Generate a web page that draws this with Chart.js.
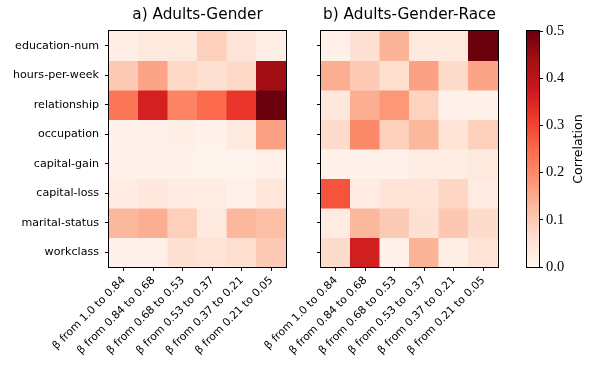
<!DOCTYPE html>
<html>
<head>
<meta charset="utf-8">
<script src="https://cdn.jsdelivr.net/npm/chart.js@4.4.1/dist/chart.umd.min.js"></script>
<style>
  html, body { margin: 0; padding: 0; background: #fff; }
  #wrap { position: relative; width: 598px; height: 367px; overflow: hidden; }
  #wrap canvas { position: absolute; left: 0; top: 0; }
</style>
</head>
<body>
<div id="wrap">
  <canvas id="ca" width="598" height="367"></canvas>
  <canvas id="cb" width="598" height="367"></canvas>
  <canvas id="cc" width="598" height="367"></canvas>
</div>
<script>
// ---- data ----
const features = ["education-num", "hours-per-week", "relationship", "occupation",
                  "capital-gain", "capital-loss", "marital-status", "workclass"];
const betaBins = ["β from 1.0 to 0.84", "β from 0.84 to 0.68", "β from 0.68 to 0.53",
                  "β from 0.53 to 0.37", "β from 0.37 to 0.21", "β from 0.21 to 0.05"];
const titleA = "a) Adults-Gender";
const titleB = "b) Adults-Gender-Race";
// rows follow `features`, columns follow `betaBins`
const genderEducation  = [0.020, 0.035, 0.035, 0.090, 0.050, 0.020];
const genderHours      = [0.100, 0.160, 0.075, 0.060, 0.075, 0.440];
const genderRelation   = [0.230, 0.360, 0.210, 0.250, 0.325, 0.495];
const genderOccupation = [0.010, 0.012, 0.018, 0.008, 0.035, 0.165];
const genderCapGain    = [0.012, 0.015, 0.010, 0.006, 0.006, 0.012];
const genderCapLoss    = [0.030, 0.040, 0.030, 0.025, 0.015, 0.045];
const genderMarital    = [0.130, 0.145, 0.090, 0.035, 0.130, 0.120];
const genderWorkclass  = [0.012, 0.012, 0.060, 0.055, 0.065, 0.100];

const raceEducation  = [0.015, 0.060, 0.135, 0.035, 0.035, 0.495];
const raceHours      = [0.145, 0.100, 0.065, 0.165, 0.070, 0.160];
const raceRelation   = [0.040, 0.145, 0.180, 0.085, 0.012, 0.010];
const raceOccupation = [0.070, 0.200, 0.090, 0.130, 0.055, 0.090];
const raceCapGain    = [0.010, 0.010, 0.012, 0.025, 0.025, 0.035];
const raceCapLoss    = [0.280, 0.030, 0.055, 0.055, 0.080, 0.030];
const raceMarital    = [0.030, 0.130, 0.100, 0.060, 0.105, 0.070];
const raceWorkclass  = [0.070, 0.365, 0.015, 0.135, 0.020, 0.055];

const colorbarTicks = [0.0, 0.1, 0.2, 0.3, 0.4, 0.5];
const vmin = 0, vmax = 0.5;

const genderMatrix = [genderEducation, genderHours, genderRelation, genderOccupation,
                      genderCapGain, genderCapLoss, genderMarital, genderWorkclass];
const raceMatrix = [raceEducation, raceHours, raceRelation, raceOccupation,
                    raceCapGain, raceCapLoss, raceMarital, raceWorkclass];

// ---- Reds colormap ----
const reds = ["#fff5f0", "#fee0d2", "#fcbba1", "#fc9272", "#fb6a4a",
              "#ef3b2c", "#cb181d", "#a50f15", "#67000d"];
function hex2rgb(h) { return [1, 3, 5].map(i => parseInt(h.substr(i, 2), 16)); }
const redsRGB = reds.map(hex2rgb);
function redsColor(v) {
  let t = (v - vmin) / (vmax - vmin);
  t = Math.max(0, Math.min(1, t));
  const p = t * (redsRGB.length - 1);
  const i = Math.min(Math.floor(p), redsRGB.length - 2);
  const f = p - i;
  const c = redsRGB[i].map((a, k) => Math.round(a + (redsRGB[i + 1][k] - a) * f));
  return `rgb(${c[0]},${c[1]},${c[2]})`;
}

// ---- geometry ----
const W = 598, H = 367;
const plotTop = 31, plotBottom = 267;
const aLeft = 109, aRight = 286;
const bLeft = 321, bRight = 498;
const cbLeft = 527, cbRight = 539;

const sansFont = "'DejaVu Sans', sans-serif";
const serifFont = "'Liberation Serif', 'DejaVu Serif', serif";

const boxPlugin = {
  id: 'box',
  afterDraw(chart) {
    const { ctx, chartArea: a } = chart;
    ctx.save();
    ctx.strokeStyle = '#000';
    ctx.lineWidth = 1;
    ctx.strokeRect(Math.round(a.left) - 0.5, Math.round(a.top) - 0.5,
                   Math.round(a.right - a.left) + 1, Math.round(a.bottom - a.top) + 1);
    ctx.restore();
  }
};

function heatmapConfig(matrix, title, left, right, showLabels) {
  const datasets = matrix.map((row, r) => ({
    label: features[r],
    data: row.map(() => [r, r + 1]),
    backgroundColor: row.map(v => redsColor(v)),
    borderWidth: 0,
    barPercentage: 1,
    categoryPercentage: 1,
    grouped: false,
    inflateAmount: 0.5
  }));
  return {
    type: 'bar',
    data: { labels: betaBins, datasets },
    options: {
      responsive: false,
      animation: false,
      events: [],
      layout: { padding: { left: 0, right: W - right, top: 0, bottom: 0 } },
      plugins: {
        legend: { display: false },
        tooltip: { enabled: false },
        title: {
          display: true, text: title, fullSize: false, color: '#000',
          font: { family: sansFont, size: 15.3, weight: 'normal', lineHeight: 1.2 },
          padding: { top: 6, bottom: 31 - 6 - 15.3 * 1.2 }
        }
      },
      scales: {
        x: {
          type: 'category',
          offset: true,
          grid: { offset: false, drawOnChartArea: false, drawTicks: true, tickLength: 4, tickColor: '#000' },
          border: { display: false },
          ticks: {
            minRotation: 45, maxRotation: 45, autoSkip: false, padding: 3,
            color: '#000', font: { family: sansFont, size: 10.8 }
          },
          afterFit(s) { s.height = H - plotBottom; s.paddingLeft = 0; s.paddingRight = 0; }
        },
        y: {
          type: 'linear', min: 0, max: features.length, reverse: true,
          grid: { drawOnChartArea: false, drawTicks: true, tickLength: 4, tickColor: '#000' },
          border: { display: false },
          afterBuildTicks(s) { s.ticks = features.map((f, i) => ({ value: i + 0.5 })); },
          ticks: {
            autoSkip: false, padding: 6, color: '#000',
            font: { family: sansFont, size: 11.1 },
            callback: (v, i) => showLabels ? features[i] : ''
          },
          afterFit(s) { s.width = left; s.paddingTop = 0; s.paddingBottom = 0; }
        }
      }
    },
    plugins: [boxPlugin]
  };
}

new Chart(document.getElementById('ca'), heatmapConfig(genderMatrix, titleA, aLeft, aRight, true));
new Chart(document.getElementById('cb'), heatmapConfig(raceMatrix, titleB, bLeft, bRight, false));

// ---- colorbar ----
const cbTitlePlugin = {
  id: 'cbTitle',
  afterDraw(chart) {
    const { ctx, chartArea: a } = chart;
    ctx.save();
    ctx.translate(579, (a.top + a.bottom) / 2);
    ctx.rotate(-Math.PI / 2);
    ctx.fillStyle = '#000';
    ctx.font = `12.6px ${sansFont}`;
    ctx.textAlign = 'center';
    ctx.textBaseline = 'middle';
    ctx.fillText('Correlation', 0, 0);
    ctx.restore();
  }
};

new Chart(document.getElementById('cc'), {
  type: 'bar',
  data: {
    labels: ['cb'],
    datasets: [{
      data: [[vmin, vmax]],
      borderWidth: 0,
      barPercentage: 1,
      categoryPercentage: 1,
      backgroundColor(ctx) {
        const ca = ctx.chart.chartArea;
        if (!ca) return reds[4];
        const g = ctx.chart.ctx.createLinearGradient(0, ca.bottom, 0, ca.top);
        reds.forEach((c, i) => g.addColorStop(i / (reds.length - 1), c));
        return g;
      }
    }]
  },
  options: {
    responsive: false,
    animation: false,
    events: [],
    layout: { padding: { left: cbLeft, right: 0, top: plotTop, bottom: H - plotBottom } },
    plugins: { legend: { display: false }, tooltip: { enabled: false }, title: { display: false } },
    scales: {
      x: { display: false },
      y: {
        type: 'linear', position: 'right', min: vmin, max: vmax,
        grid: { drawOnChartArea: false, drawTicks: true, tickLength: 4, tickColor: '#000' },
        border: { display: false },
        afterBuildTicks(s) { s.ticks = colorbarTicks.map(v => ({ value: v })); },
        ticks: {
          padding: 3, color: '#000',
          font: { family: serifFont, size: 14.5 },
          callback: v => Number(v).toFixed(1)
        },
        afterFit(s) { s.width = W - cbRight; s.paddingTop = 0; s.paddingBottom = 0; }
      }
    }
  },
  plugins: [boxPlugin, cbTitlePlugin]
});
</script>
</body>
</html>
